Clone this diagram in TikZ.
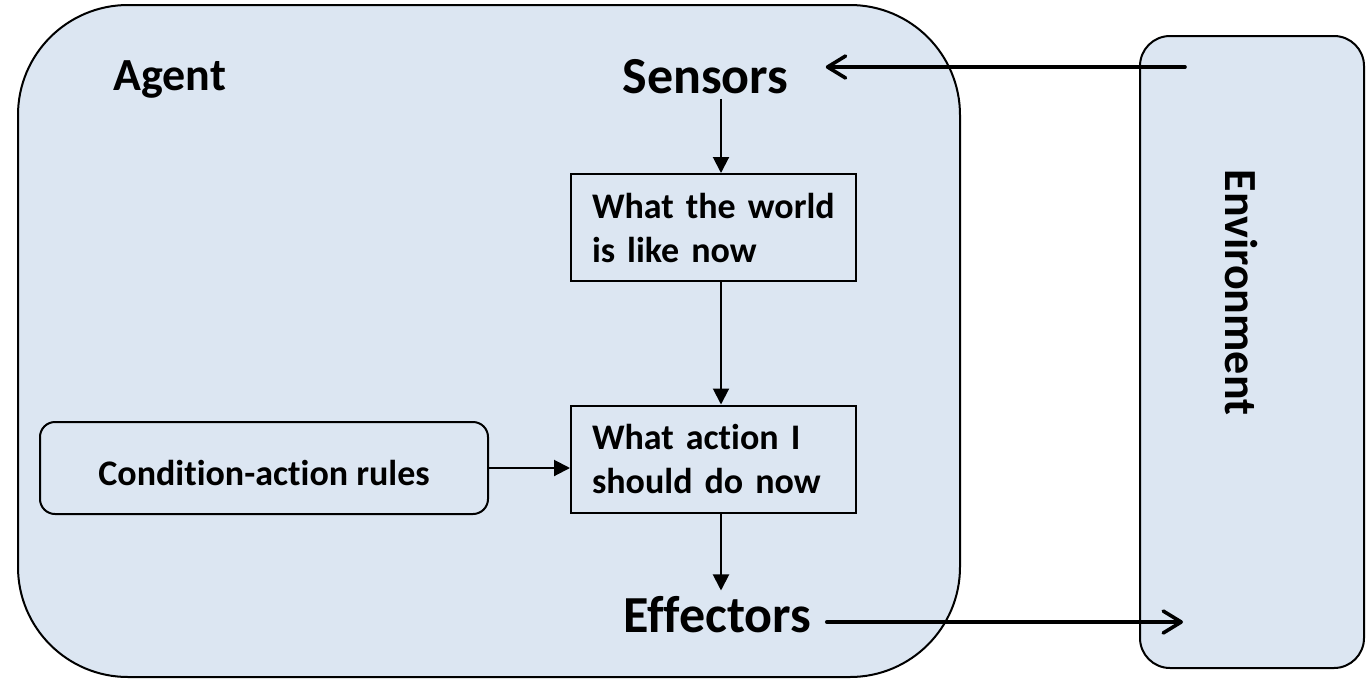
\documentclass[tikz,border=0pt]{standalone}
\usepackage{fontspec}
\setmainfont{Carlito}[Ligatures=NoCommon]
\usetikzlibrary{arrows.meta}
\definecolor{boxfill}{RGB}{220,230,242}
\begin{document}
\begin{tikzpicture}[x=0.5pt,y=-0.5pt,
  frame/.style={draw=black, line width=1pt, fill=boxfill},
  stepbox/.style={frame, minimum width=142.5pt, minimum height=53.5pt, text width=121.5pt, align=left, inner xsep=10.5pt, font=\bfseries\fontsize{18}{22}\selectfont},
  bigtext/.style={font=\bfseries\fontsize{26}{30}\selectfont, inner sep=0pt, anchor=base west},
  midtext/.style={font=\bfseries\fontsize{23}{27}\selectfont, inner sep=0pt},
  flow/.style={line width=1pt, -{Triangle[length=8pt,width=8pt]}},
  envflow/.style={line width=1.8pt, line cap=round, -{Straight Barb[length=9pt,width=11pt,line join=round,line cap=round]}}
]
\useasboundingbox (0,0) rectangle (1371,681);
\node[frame, rounded corners=55pt, minimum width=471pt, minimum height=336pt] (agent) at (489,341) {};
\node[frame, rounded corners=15pt, minimum width=112pt, minimum height=316pt] (env) at (1252,352) {};

\node[midtext, anchor=base west] (agentlbl) at (113,90) {Agent};
\node[bigtext] (sensors) at (622,93) {Sensors};
\node[bigtext] (effectors) at (623,632) {Effectors};
\node[midtext, rotate=-90] (envlbl) at (1241,292.5) {Environment};

\node[stepbox] (world) at (713.5,227.5) {What the world\\is like now};
\node[stepbox] (action) at (713.5,459) {What action I\\should do now};
\node[frame, rounded corners=7.5pt, minimum width=224pt, minimum height=46pt, font=\bfseries\fontsize{18}{22}\selectfont, text height=17pt, text depth=0pt] (rules) at (264,468) {Condition-action rules};

\coordinate (col) at (721,0);
\coordinate (envin) at (1185,67);
\coordinate (envout) at (1183,622);

\draw[flow, shorten <=2.5pt] (sensors.south -| col) -- (world.north -| col);
\draw[flow] (world.south -| col) -- (action.north -| col);
\draw[flow, shorten >=2.5pt] (action.south -| col) -- (effectors.north -| col);
\draw[flow] (rules.east) -- (action.west |- rules.east);
\draw[envflow, shorten >=18.5pt] (envin) -- (sensors.east |- envin);
\draw[envflow, shorten <=7.5pt] (effectors.east |- envout) -- (envout);
\end{tikzpicture}
\end{document}
